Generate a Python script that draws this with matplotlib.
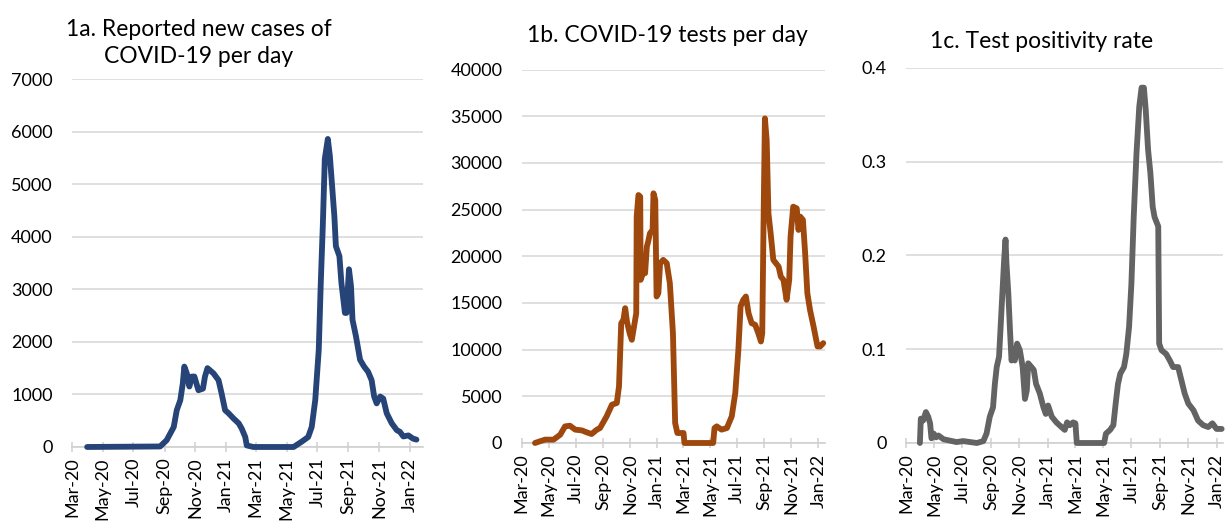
import pandas as pd
import matplotlib
matplotlib.use('Agg')
from matplotlib import pyplot as plt
import matplotlib.dates as mdates

plt.rcParams['font.family'] = ['Lato', 'DejaVu Sans']

# 1a. reported new cases per day
cases_dates = ['2020-03-31', '2020-08-23', '2020-09-05', '2020-09-19', '2020-09-25', '2020-10-02',
               '2020-10-07', '2020-10-10', '2020-10-15', '2020-10-20', '2020-10-25', '2020-10-30',
               '2020-11-07', '2020-11-16', '2020-11-20', '2020-11-25', '2020-12-07', '2020-12-17',
               '2020-12-23', '2020-12-30', '2021-01-06', '2021-01-16', '2021-01-26', '2021-02-01',
               '2021-02-08', '2021-02-11', '2021-02-24', '2021-05-15', '2021-05-31', '2021-06-13',
               '2021-06-20', '2021-06-27', '2021-07-04', '2021-07-08', '2021-07-12', '2021-07-16',
               '2021-07-22', '2021-07-26', '2021-07-30', '2021-08-04', '2021-08-07', '2021-08-14',
               '2021-08-18', '2021-08-25', '2021-08-28', '2021-09-02', '2021-09-06', '2021-09-09',
               '2021-09-16', '2021-09-24', '2021-10-02', '2021-10-10', '2021-10-17', '2021-10-22',
               '2021-10-27', '2021-11-03', '2021-11-09', '2021-11-16', '2021-11-26', '2021-12-06',
               '2021-12-12', '2021-12-19', '2021-12-29', '2022-01-07', '2022-01-14']
cases_values = [0, 10, 130, 380, 700, 890,
                1210, 1530, 1400, 1150, 1340, 1340,
                1080, 1110, 1340, 1500, 1400, 1270,
                1020, 700, 640, 540, 450, 350,
                190, 30, 0, 0, 100, 190,
                380, 890, 1850, 3120, 4200, 5480,
                5860, 5540, 5030, 4390, 3820, 3630,
                3120, 2550, 2550, 3380, 3060, 2420,
                2100, 1660, 1530, 1430, 1270, 960,
                830, 960, 920, 640, 450, 320,
                290, 200, 220, 160, 140]

# 1b. tests per day
tests_dates = ['2020-03-31', '2020-04-11', '2020-04-23', '2020-05-12', '2020-05-27', '2020-06-07',
               '2020-06-18', '2020-06-30', '2020-07-15', '2020-07-26', '2020-08-06', '2020-08-18',
               '2020-08-25', '2020-09-09', '2020-09-21', '2020-10-02', '2020-10-07', '2020-10-12',
               '2020-10-17', '2020-10-21', '2020-10-25', '2020-10-31', '2020-11-05', '2020-11-15',
               '2020-11-16', '2020-11-20', '2020-11-24', '2020-11-25', '2020-11-30', '2020-12-05',
               '2020-12-09', '2020-12-12', '2020-12-16', '2020-12-22', '2020-12-24', '2020-12-28',
               '2020-12-31', '2021-01-04', '2021-01-08', '2021-01-15', '2021-01-23', '2021-01-30',
               '2021-02-06', '2021-02-11', '2021-02-16', '2021-03-02', '2021-03-04', '2021-05-08',
               '2021-05-11', '2021-05-16', '2021-05-27', '2021-06-08', '2021-06-19', '2021-06-27',
               '2021-07-04', '2021-07-09', '2021-07-15', '2021-07-21', '2021-07-27', '2021-08-03',
               '2021-08-11', '2021-08-18', '2021-08-24', '2021-08-27', '2021-08-30', '2021-09-02',
               '2021-09-06', '2021-09-10', '2021-09-15', '2021-09-21', '2021-09-27', '2021-10-03',
               '2021-10-08', '2021-10-14', '2021-10-21', '2021-10-27', '2021-10-30', '2021-11-05',
               '2021-11-13', '2021-11-17', '2021-11-21', '2021-11-27', '2021-12-02', '2021-12-07',
               '2021-12-13', '2021-12-21', '2021-12-24', '2021-12-30', '2022-01-05', '2022-01-12']
tests_values = [0, 180, 360, 360, 890, 1780,
                1850, 1430, 1350, 1140, 960, 1430,
                1600, 2850, 4100, 4280, 6060, 12830,
                13190, 14440, 13010, 11760, 11050, 13900,
                24240, 26560, 26380, 17470, 18180, 18180,
                21030, 21570, 22460, 22820, 26740, 26020,
                15690, 16040, 19250, 19610, 19250, 17110,
                11760, 2140, 1070, 1070, 0, 0,
                1600, 1780, 1430, 1600, 2850, 5350,
                9980, 14620, 15330, 15690, 13900, 12830,
                12660, 11760, 10870, 11760, 23890, 34760,
                32440, 24600, 22460, 19610, 19250, 18890,
                17820, 17470, 15330, 17470, 22100, 25310,
                25130, 22820, 24240, 23890, 20320, 16040,
                14260, 12480, 11760, 10340, 10340, 10700]

# 1c. test positivity rate
positivity_dates = ['2020-03-31', '2020-04-02', '2020-04-07', '2020-04-13', '2020-04-18', '2020-04-22',
                    '2020-04-25', '2020-04-30', '2020-05-05', '2020-05-10', '2020-05-21', '2020-06-18',
                    '2020-07-03', '2020-08-01', '2020-08-15', '2020-08-22', '2020-08-29', '2020-09-05',
                    '2020-09-09', '2020-09-13', '2020-09-18', '2020-09-21', '2020-09-26', '2020-09-29',
                    '2020-10-02', '2020-10-04', '2020-10-08', '2020-10-12', '2020-10-15', '2020-10-19',
                    '2020-10-22', '2020-10-27', '2020-11-02', '2020-11-08', '2020-11-13', '2020-11-17',
                    '2020-11-20', '2020-11-27', '2020-12-02', '2020-12-07', '2020-12-15', '2020-12-23',
                    '2020-12-28', '2021-01-02', '2021-01-10', '2021-01-20', '2021-01-31', '2021-02-07',
                    '2021-02-12', '2021-02-18', '2021-02-25', '2021-03-02', '2021-03-05', '2021-05-03',
                    '2021-05-07', '2021-05-16', '2021-05-23', '2021-05-28', '2021-06-02', '2021-06-07',
                    '2021-06-15', '2021-06-20', '2021-06-26', '2021-07-01', '2021-07-06', '2021-07-12',
                    '2021-07-18', '2021-07-23', '2021-07-28', '2021-08-01', '2021-08-06', '2021-08-11',
                    '2021-08-16', '2021-08-20', '2021-08-28', '2021-08-30', '2021-09-04', '2021-09-14',
                    '2021-09-22', '2021-09-29', '2021-10-10', '2021-10-17', '2021-10-24', '2021-11-01',
                    '2021-11-12', '2021-11-22', '2021-12-03', '2021-12-14', '2021-12-23', '2022-01-01',
                    '2022-01-12']
positivity_values = [0, 0.026, 0.024, 0.033, 0.028, 0.021,
                     0.005, 0.010, 0.006, 0.008, 0.004, 0.001,
                     0.002, 0, 0.002, 0.010, 0.028, 0.038,
                     0.063, 0.081, 0.092, 0.120, 0.167, 0.195,
                     0.217, 0.192, 0.160, 0.117, 0.088, 0.095,
                     0.088, 0.106, 0.099, 0.081, 0.047, 0.056,
                     0.085, 0.081, 0.078, 0.063, 0.053, 0.038,
                     0.031, 0.040, 0.028, 0.022, 0.017, 0.014,
                     0.022, 0.019, 0.022, 0.021, 0, 0,
                     0.010, 0.014, 0.019, 0.042, 0.063, 0.074,
                     0.081, 0.095, 0.124, 0.170, 0.241, 0.309,
                     0.359, 0.379, 0.379, 0.355, 0.313, 0.288,
                     0.252, 0.241, 0.231, 0.106, 0.099, 0.095,
                     0.088, 0.081, 0.081, 0.067, 0.053, 0.042,
                     0.035, 0.024, 0.019, 0.017, 0.021, 0.015,
                     0.015]

titles = ['1a. Reported new cases of\nCOVID-19 per day', '1b. COVID-19 tests per day',
          '1c. Test positivity rate']
colors = ['#264478', '#9E480E', '#636363']
y_limits = [(0, 7000), (0, 40000), (0, 0.4)]
y_steps = [1000, 5000, 0.1]
x_ends = ['2022-01-27', '2022-01-16', '2022-01-15']
boxes = [[0.0588, 0.1486, 0.2865, 0.7009],
         [0.4259, 0.1562, 0.2476, 0.7114],
         [0.7396, 0.1562, 0.2588, 0.7143]]
title_pos = [(0.1625, 0.918), (0.5445, 0.933), (0.8506, 0.920)]

series = [(cases_dates, cases_values), (tests_dates, tests_values),
          (positivity_dates, positivity_values)]

fig = plt.figure(figsize=(12.25, 5.25), dpi=100)
for i, (dates, values) in enumerate(series):
    ax = fig.add_axes(boxes[i])
    ax.plot(pd.to_datetime(dates), values, color=colors[i], lw=4.2,
            solid_joinstyle='round', solid_capstyle='round', zorder=3, clip_on=False)
    ax.set_xlim(pd.Timestamp('2020-03-01'), pd.Timestamp(x_ends[i]))
    lo, hi = y_limits[i]
    ax.set_ylim(lo, hi)
    n = int(round((hi - lo) / y_steps[i]))
    ticks = [lo + k * y_steps[i] for k in range(n + 1)]
    ax.set_yticks(ticks)
    if i == 2:
        ax.set_yticklabels(['0'] + ['%g' % round(t, 1) for t in ticks[1:]])
    ax.grid(axis='y', color='#D9D9D9', lw=1.2)
    ax.set_axisbelow(True)
    for s in ['top', 'right', 'left']:
        ax.spines[s].set_visible(False)
    ax.spines['bottom'].set_color('#D0D0D0')
    ax.spines['bottom'].set_linewidth(1.2)
    ax.xaxis.set_major_locator(mdates.MonthLocator(bymonth=[1, 3, 5, 7, 9, 11]))
    ax.xaxis.set_major_formatter(mdates.DateFormatter('%b-%y'))
    ax.tick_params(axis='x', direction='inout', length=7, width=1.1, color='#D0D0D0',
                   labelsize=13, labelrotation=90, pad=4, labelcolor='black')
    ax.tick_params(axis='y', length=0, labelsize=13, pad=14, labelcolor='black')
    fig.text(title_pos[i][0], title_pos[i][1], titles[i], ha='center', va='center',
             fontsize=16.5, linespacing=1.3)

plt.savefig('out.png', dpi=100)
